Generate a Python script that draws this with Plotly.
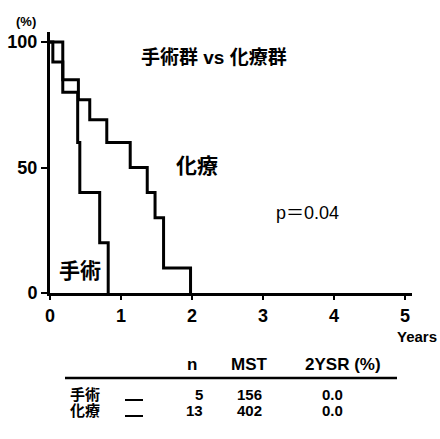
import plotly.graph_objects as go

# ---- data ----
surgery_t = [0, 0.18, 0.39, 0.42, 0.70, 0.82]
surgery_s = [100, 80, 60, 40, 20, 0]
chemo_t = [0, 0.04, 0.18, 0.40, 0.56, 0.80, 1.13, 1.37, 1.48, 1.60, 1.98]
chemo_s = [100, 92, 85, 77, 69, 60, 50, 40, 30, 10, 0]

x_ticks = [0, 1, 2, 3, 4, 5]
y_ticks = [0, 50, 100]

groups = ["手術", "化療"]
n_vals = [5, 13]
mst_vals = [156, 402]
ysr_vals = ["0.0", "0.0"]
headers = ["n", "MST", "2YSR (%)"]

FONT = "Liberation Sans, Arial, Noto Sans CJK JP"
W, H = 440, 439
L, R, T, B = 50, 28, 32, 146
PW, PH = W - L - R, H - T - B


def px(xp):
    return (xp - L) / PW


def py(yp):
    return (H - B - yp) / PH


fig = go.Figure()
for t, s in [(surgery_t, surgery_s), (chemo_t, chemo_s)]:
    fig.add_trace(go.Scatter(x=t, y=s, mode="lines", line=dict(color="black", width=3, shape="hv"),
                             showlegend=False, hoverinfo="skip"))

fig.update_xaxes(range=[0, 5.1], tickvals=x_ticks, ticktext=[str(v) for v in x_ticks],
                 showgrid=False, zeroline=False, showline=True, linecolor="black", linewidth=3,
                 ticks="outside", ticklen=4, tickwidth=2, tickcolor="black",
                 tickfont=dict(family=FONT, size=18, color="black", weight="bold"),
                 ticklabelstandoff=0)
fig.update_yaxes(range=[0, 104], tickvals=y_ticks, ticktext=[str(v) for v in y_ticks],
                 showgrid=False, zeroline=False, showline=True, linecolor="black", linewidth=3,
                 ticks="outside", ticklen=6, tickwidth=2, tickcolor="black",
                 tickfont=dict(family=FONT, size=18, color="black", weight="bold"),
                 ticklabelstandoff=0)

ann = []


def text(x, y, s, size, bold=True, xanchor="center"):
    ann.append(dict(x=px(x), y=py(y), xref="paper", yref="paper", text=s, showarrow=False,
                    xanchor=xanchor, yanchor="middle",
                    font=dict(family=FONT, size=size, color="black",
                              weight="bold" if bold else "normal")))


text(26, 22, "(%)", 13)
text(214, 57, "手術群 vs 化療群", 19)
text(197, 165, "化療", 21)
text(80, 270, "手術", 21)
text(307, 213, "p＝0.04", 18, bold=False)
text(417, 336, "Years", 15)

# table
col_x = [192, 249, 343]
for hx, h in zip(col_x, headers):
    text(hx, 364, h, 17)
row_y = [394, 410]
shapes = [dict(type="line", xref="paper", yref="paper", x0=px(65), x1=px(397), y0=py(378), y1=py(378),
               line=dict(color="black", width=2.5))]
for i, g in enumerate(groups):
    yy = row_y[i]
    text(85, yy, g, 15)
    text(205, yy, str(n_vals[i]), 15, xanchor="right")
    text(249, yy, str(mst_vals[i]), 15)
    text(332, yy, ysr_vals[i], 15)
    shapes.append(dict(type="line", xref="paper", yref="paper", x0=px(125), x1=px(143),
                       y0=py(yy + 6), y1=py(yy + 6), line=dict(color="black", width=2)))

fig.update_layout(width=W, height=H, margin=dict(l=L, r=R, t=T, b=B, autoexpand=False),
                  paper_bgcolor="white", plot_bgcolor="white",
                  annotations=ann, shapes=shapes)
fig.write_html("out.html", config={"displayModeBar": False},
               post_script="document.body.style.margin='0';document.body.style.overflow='hidden';")
